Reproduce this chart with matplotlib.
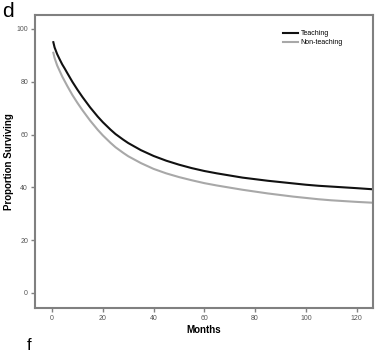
import matplotlib
matplotlib.use("Agg")
import matplotlib.pyplot as plt

plt.rcParams['font.family'] = ['Liberation Sans', 'DejaVu Sans']

# Months and survival (%)
months = [0.5, 1, 2, 3, 4, 5, 6, 8, 10, 12, 15, 18, 20, 23, 25, 28, 30, 35, 40,
          45, 50, 55, 60, 65, 70, 75, 80, 85, 90, 95, 100, 105, 110, 115, 120, 126]
teaching = [95, 93, 90.5, 88.5, 86.6, 85, 83.3, 80, 77, 74.2, 70.3, 66.8, 64.7, 61.9, 60.2,
            58.1, 56.8, 54.1, 51.9, 50.1, 48.6, 47.3, 46.2, 45.3, 44.5, 43.7, 43.1, 42.5, 42,
            41.5, 41, 40.6, 40.3, 40, 39.7, 39.3]
non_teaching = [91, 89, 86.2, 84.1, 82, 80.2, 78.4, 75, 72, 69.2, 65.3, 61.8, 59.7, 56.9,
                55.2, 53.1, 51.8, 49.2, 47, 45.3, 43.9, 42.7, 41.6, 40.7, 39.9, 39.1, 38.4,
                37.7, 37.1, 36.5, 36, 35.5, 35.1, 34.8, 34.5, 34.2]

fig = plt.figure(figsize=(3.77, 3.53), dpi=100)
ax = fig.add_axes([0.093, 0.1275, 0.896, 0.83])

ax.plot(months, teaching, color="#111111", lw=1.5, label="Teaching")
ax.plot(months, non_teaching, color="#a8a8a8", lw=1.5, label="Non-teaching")

ax.set_xlim(-6.7, 126.4)
ax.set_ylim(-5.7, 105.3)
ax.set_xticks([0, 20, 40, 60, 80, 100, 120])
ax.set_yticks([0, 20, 40, 60, 80, 100])

for s in ax.spines.values():
    s.set_color("#808080")
    s.set_linewidth(1.5)
ax.tick_params(colors="#808080", labelcolor="#555555", labelsize=5, length=3, width=1, pad=2)

ax.set_xlabel("Months", fontsize=7, fontweight="bold", labelpad=2)
ax.set_ylabel("Proportion Surviving", fontsize=7, fontweight="bold", labelpad=2)

leg = ax.legend(loc="upper right", bbox_to_anchor=(0.93, 0.97), frameon=False, fontsize=5,
                handlelength=2.2, handletextpad=0.4, labelspacing=0.3)

fig.text(0.005, 0.995, "d", fontsize=15, va="top", ha="left")
fig.text(0.07, 0.0, "f", fontsize=12, va="bottom", ha="left")

fig.savefig("out.png", dpi=100)
